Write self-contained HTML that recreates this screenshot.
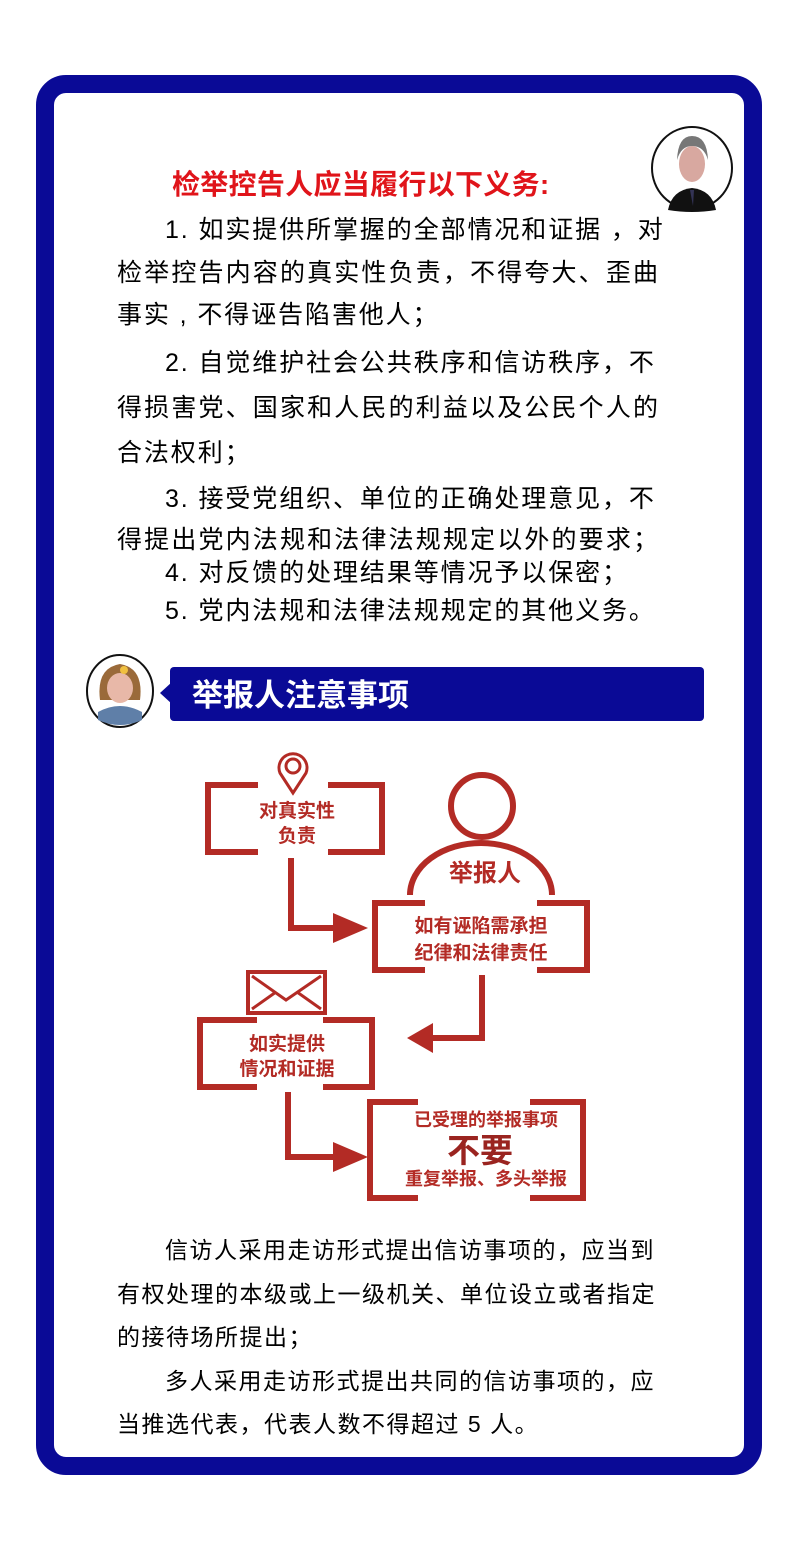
<!DOCTYPE html>
<html><head><meta charset="utf-8">
<style>
*{margin:0;padding:0}
body{width:800px;height:1552px;background:#fff;position:relative;overflow:hidden;font-family:"Liberation Sans","Noto Sans CJK SC",sans-serif;}
.frame{position:absolute;left:36px;top:75px;width:690px;height:1364px;border:18px solid #0a0a96;border-radius:30px;background:#fff}
.t{position:absolute;font-size:25px;letter-spacing:1.9px;color:#000;white-space:nowrap;line-height:30px;transform:translateY(-15px)}
.j{width:541px;text-align:justify;text-align-last:justify;letter-spacing:0}
.b{position:absolute;font-size:23px;letter-spacing:1.5px;color:#000;white-space:nowrap;line-height:30px;transform:translateY(-15px)}
</style></head><body>
<div class="frame"></div>
<svg style="position:absolute;left:0;top:0" width="800" height="1552">
<ellipse cx="692" cy="168" rx="40" ry="41" fill="#fff" stroke="#111" stroke-width="2"/>
<path d="M668 210 Q672 190 692 188 Q712 190 716 210 Q692 214 668 210Z" fill="#111"/>
<ellipse cx="692" cy="164" rx="13" ry="18" fill="#d8a8a0"/>
<path d="M677 160 Q678 136 692 136 Q707 136 708 160 Q704 146 692 146 Q681 146 677 160Z" fill="#777"/>
<path d="M690 190 L694 190 L693 206 Z" fill="#335"/>
<ellipse cx="120" cy="691" rx="33" ry="36" fill="#fff" stroke="#111" stroke-width="2"/>
<path d="M98 712 Q120 700 142 712 L142 720 Q120 730 98 720Z" fill="#5f7fa8"/>
<path d="M100 700 Q96 668 120 664 Q144 668 140 700 Z" fill="#9a6a3a"/>
<ellipse cx="120" cy="688" rx="13" ry="15" fill="#e8b8a8"/>
<circle cx="124" cy="670" r="4" fill="#f0c040"/>
<polygon points="160,693 172,682 172,704" fill="#0a0a96"/>
<rect x="170" y="667" width="534" height="54" rx="4" fill="#0a0a96"/>
<text x="192" y="706" font-size="31" font-weight="bold" fill="#fff" font-family="Liberation Sans,Noto Sans CJK SC,sans-serif">举报人注意事项</text>
<text x="172" y="194" font-size="28" font-weight="bold" fill="#e0141a" font-family="Liberation Sans,Noto Sans CJK SC,sans-serif" letter-spacing="0.3">检举控告人应当履行以下义务:</text>
<g fill="none" stroke="#b32b25" stroke-width="6">
<path d="M258 785 H208 V852 H258"/><path d="M328 785 H382 V852 H328"/>
<path d="M425 903 H375 V970 H425"/><path d="M537 903 H587 V970 H537"/>
<path d="M257 1020 H200 V1087 H257"/><path d="M323 1020 H372 V1087 H323"/>
<path d="M418 1102 H370 V1198 H418"/><path d="M530 1102 H583 V1198 H530"/>
<path d="M291 858 V928 H340"/>
<path d="M482 975 V1038 H425"/>
<path d="M288 1092 V1157 H340"/>
<circle cx="482" cy="806" r="31"/>
<path d="M410 895 A71 52 0 0 1 552 895"/>
<path d="M293 793 L280 773 A14 14 0 1 1 306 773 Z" stroke-width="3"/>
<circle cx="293" cy="766" r="7" stroke-width="3"/>
<rect x="248" y="972" width="77" height="41" stroke-width="4"/>
<path d="M252 976 L286 1000 L321 976 M252 1009 L276 992 M321 1009 L297 992" stroke-width="3"/>
</g>
<g fill="#b32b25">
<polygon points="333,913 368,928 333,943"/>
<polygon points="433,1023 407,1038 433,1053"/>
<polygon points="333,1142 368,1157 333,1172"/>
</g>
<g font-family="Liberation Sans,Noto Sans CJK SC,sans-serif" font-weight="bold" fill="#b32b25" text-anchor="middle">
<text x="297" y="817" font-size="19">对真实性</text>
<text x="297" y="842" font-size="19">负责</text>
<text x="485" y="881" font-size="24">举报人</text>
<text x="481" y="932" font-size="19">如有诬陷需承担</text>
<text x="481" y="959" font-size="19">纪律和法律责任</text>
<text x="287" y="1050" font-size="19">如实提供</text>
<text x="287" y="1075" font-size="19">情况和证据</text>
<text x="486" y="1126" font-size="18">已受理的举报事项</text>
<text x="480" y="1162" font-size="33" fill="#9a2420">不要</text>
<text x="486" y="1185" font-size="18">重复举报、多头举报</text>
</g>
</svg>
<div class="t" style="left:165px;top:230px">1. 如实提供所掌握的全部情况和证据 ，对</div>
<div class="t j" style="left:117px;top:273px">检举控告内容的真实性负责，不得夸大、歪曲</div>
<div class="t" style="left:117px;top:315px">事实 , 不得诬告陷害他人；</div>
<div class="t" style="left:165px;top:363px">2. 自觉维护社会公共秩序和信访秩序，不</div>
<div class="t j" style="left:117px;top:408px">得损害党、国家和人民的利益以及公民个人的</div>
<div class="t" style="left:117px;top:453px">合法权利；</div>
<div class="t" style="left:165px;top:499px">3. 接受党组织、单位的正确处理意见，不</div>
<div class="t j" style="left:117px;top:540px">得提出党内法规和法律法规规定以外的要求；</div>
<div class="t" style="left:165px;top:573px">4. 对反馈的处理结果等情况予以保密；</div>
<div class="t" style="left:165px;top:611px">5. 党内法规和法律法规规定的其他义务。</div>

<div class="b" style="left:165px;top:1250px">信访人采用走访形式提出信访事项的，应当到</div>
<div class="b" style="left:117px;top:1294px">有权处理的本级或上一级机关、单位设立或者指定</div>
<div class="b" style="left:117px;top:1337px">的接待场所提出；</div>
<div class="b" style="left:165px;top:1381px">多人采用走访形式提出共同的信访事项的，应</div>
<div class="b" style="left:117px;top:1424px">当推选代表，代表人数不得超过 5 人。</div>
</body></html>
